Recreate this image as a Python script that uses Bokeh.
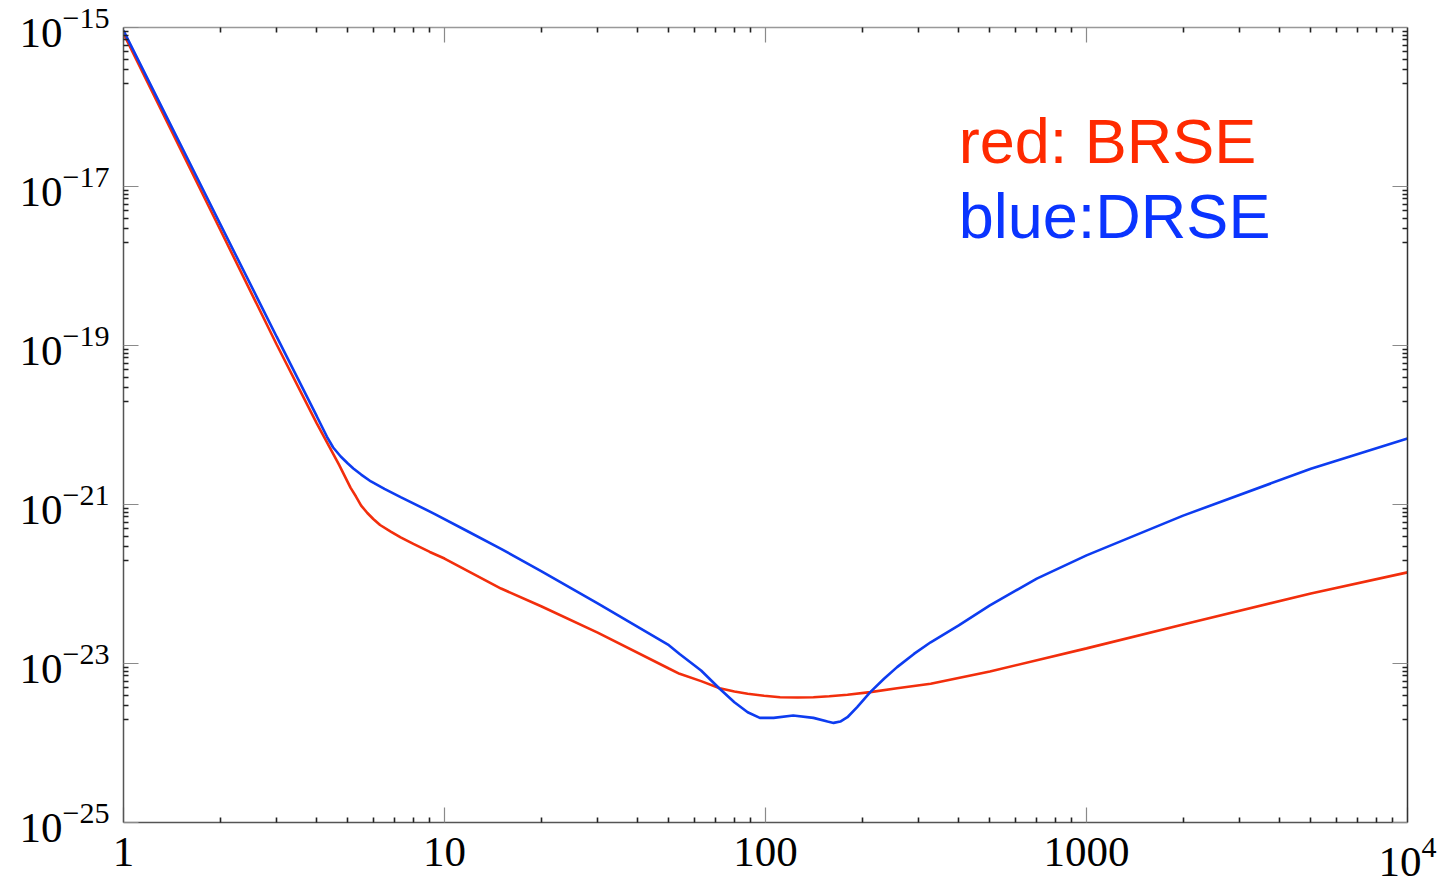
from bokeh.plotting import figure
from bokeh.models import LogAxis, FixedTicker, CustomJSTickFormatter, LogTickFormatter, Label, Range1d
from bokeh.embed import file_html
from bokeh.resources import INLINE

# ---- data ----
red_f = [1, 1.5, 2, 3, 4, 4.7, 5.1, 5.3, 5.5, 5.75, 6.0, 6.3, 6.8, 7.3, 8, 9, 10, 15, 20, 30, 50,
         54, 63, 72, 80, 88, 99, 111, 126, 141, 158, 180, 212, 257, 327, 500, 1000, 2000, 5000, 10000]
red_h = [8.41e-16, 3.03e-17, 2.88e-18, 1.03e-19, 1.05e-20, 3.13e-21, 1.62e-21, 1.26e-21, 9.70e-22, 7.81e-22,
         6.57e-22, 5.52e-22, 4.57e-22, 3.85e-22, 3.19e-22, 2.53e-22, 2.09e-22, 8.77e-23, 5.25e-23, 2.45e-23,
         8.65e-24, 7.41e-24, 6.00e-24, 4.89e-24, 4.44e-24, 4.16e-24, 3.93e-24, 3.77e-24, 3.73e-24, 3.77e-24,
         3.88e-24, 4.04e-24, 4.36e-24, 4.89e-24, 5.56e-24, 7.94e-24, 1.55e-23, 3.09e-23, 7.59e-23, 1.40e-22]

blue_f = [1, 1.5, 2, 3, 4, 4.3, 4.5, 4.75, 5.0, 5.2, 5.5, 5.9, 6.5, 7.3, 9.3, 11.8, 15, 20, 30, 50,
          54, 63, 72, 80, 88, 96, 106, 122, 141, 156, 163, 171, 180, 193, 212, 234, 257, 290, 327,
          400, 500, 700, 1000, 2000, 5000, 10000]
blue_h = [9.12e-16, 3.47e-17, 3.39e-18, 1.29e-19, 1.29e-20, 7.16e-21, 5.21e-21, 4.02e-21, 3.28e-21, 2.84e-21,
          2.38e-21, 1.95e-21, 1.57e-21, 1.24e-21, 7.64e-22, 4.61e-22, 2.77e-22, 1.45e-22, 5.69e-23, 1.70e-23,
          1.32e-23, 8.17e-24, 4.81e-24, 3.26e-24, 2.44e-24, 2.07e-24, 2.07e-24, 2.22e-24, 2.07e-24, 1.86e-24,
          1.79e-24, 1.86e-24, 2.11e-24, 2.82e-24, 4.36e-24, 6.43e-24, 9.00e-24, 1.32e-23, 1.85e-23,
          3.01e-23, 5.37e-23, 1.17e-22, 2.29e-22, 7.24e-22, 2.82e-21, 6.76e-21]

x_ticks = [1, 10, 100, 1000, 10000]
x_tick_labels = ["1", "10", "100", "1000"]
y_exponents = [-25, -23, -21, -19, -17, -15]

legend_red = "red: BRSE"
legend_blue = "blue:DRSE"

RED = "#f22e0c"
BLUE = "#0d3cf0"
RED_TXT = "#ff2a00"
BLUE_TXT = "#0a34ff"
SERIF = "Liberation Serif"

# ---- figure ----
p = figure(width=1443, height=884, x_axis_type="log", y_axis_type="log",
           x_range=Range1d(1, 1e4), y_range=Range1d(1e-25, 1e-15),
           output_backend="svg", toolbar_location=None,
           min_border_left=123, min_border_right=36, min_border_top=27, min_border_bottom=62)
p.outline_line_color = None
p.xgrid.grid_line_color = None
p.ygrid.grid_line_color = None
p.background_fill_color = "white"
p.border_fill_color = "white"

x_minor = [k * 10 ** e for e in range(0, 4) for k in range(2, 10)]
y_ticks = [10.0 ** e for e in y_exponents]
y_minor = [k * 10.0 ** (e - 1) for e in y_exponents if e > -25 for k in range(2, 10)]


def style(ax, ticker, line_color):
    ax.ticker = ticker
    ax.axis_line_color = line_color
    ax.axis_line_width = 1.5
    ax.major_tick_in = 15
    ax.major_tick_out = 0
    ax.minor_tick_in = 5
    ax.minor_tick_out = 0
    ax.major_tick_line_color = "#8a8a8a"
    ax.major_tick_line_width = 1.2
    ax.minor_tick_line_color = "#222222"
    ax.minor_tick_line_width = 1.6
    ax.major_label_text_font = SERIF
    ax.major_label_text_font_size = "43px"
    ax.major_label_text_font_style = "normal"
    ax.major_label_text_color = "black"


xax = p.xaxis[0]
yax = p.yaxis[0]
style(xax, FixedTicker(ticks=x_ticks, minor_ticks=x_minor), "#555555")
style(yax, FixedTicker(ticks=y_ticks, minor_ticks=y_minor), "#555555")
xax.formatter = LogTickFormatter()
yax.formatter = LogTickFormatter()
overrides = {}
for t, lab in zip(x_ticks[:-1], x_tick_labels):
    overrides[t] = lab
xax.major_label_overrides = overrides
xax.major_label_standoff = 15
yax.major_label_standoff = 14

blank = CustomJSTickFormatter(code="return ''")
top = LogAxis()
right = LogAxis()
style(top, FixedTicker(ticks=x_ticks, minor_ticks=x_minor), "#999999")
style(right, FixedTicker(ticks=y_ticks, minor_ticks=y_minor), "#333333")
for ax in (top, right):
    ax.formatter = blank
    ax.major_label_standoff = 0
    ax.major_label_text_font_size = "1px"
p.add_layout(top, "above")
p.add_layout(right, "right")

p.line(red_f, red_h, line_color=RED, line_width=2.6)
p.line(blue_f, blue_h, line_color=BLUE, line_width=2.6)

# legend texts
p.add_layout(Label(x=400, y=1.95e-17, y_offset=22, text=legend_red, text_align="left",
                   text_baseline="alphabetic", text_font="Liberation Sans", text_font_size="63px",
                   text_color=RED_TXT))
p.add_layout(Label(x=400, y=2.26e-18, y_offset=22, text=legend_blue, text_align="left",
                   text_baseline="alphabetic", text_font="Liberation Sans", text_font_size="63px",
                   text_color=BLUE_TXT))

open("out.html", "w").write(file_html(p, INLINE))
